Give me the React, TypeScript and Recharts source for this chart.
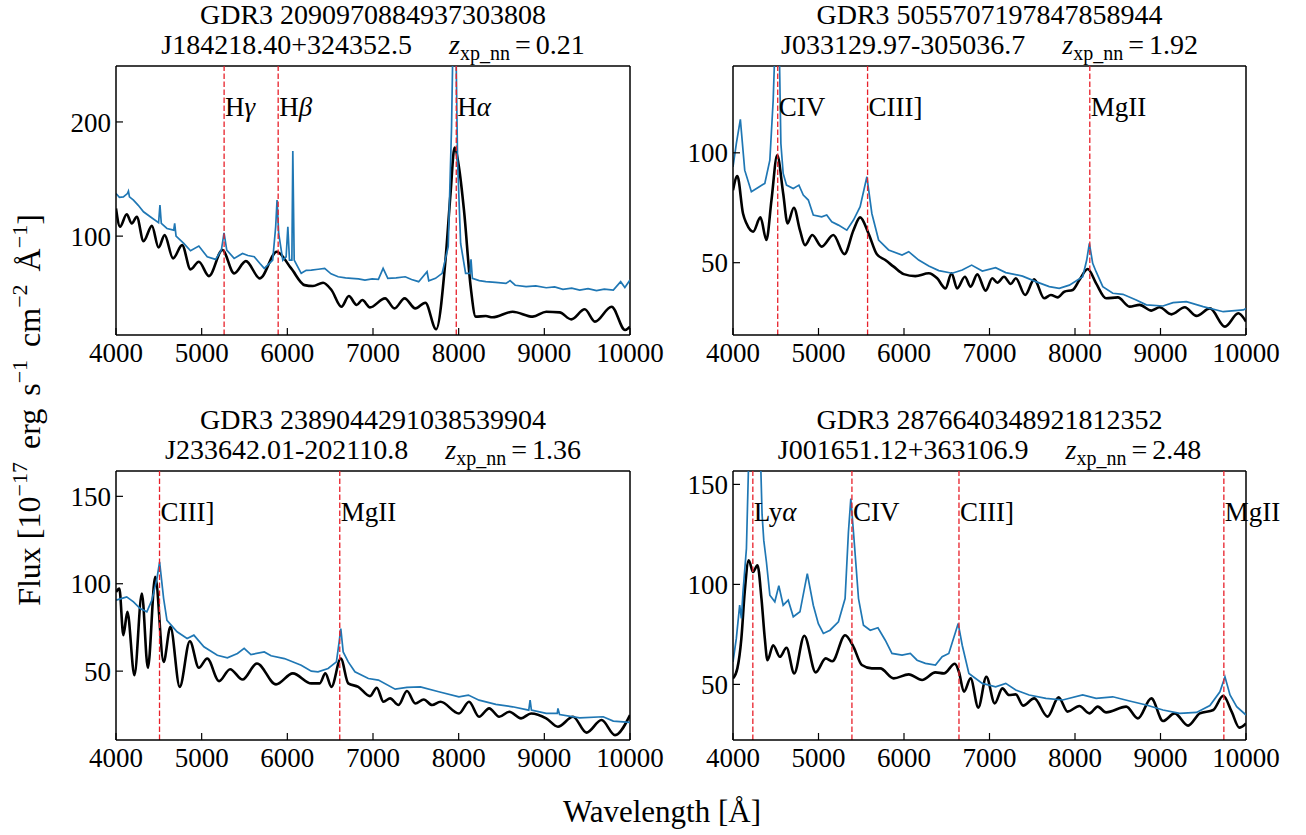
import React from 'react';
import { LineChart, Line, XAxis, YAxis, ReferenceLine } from 'recharts';

const FONT = '"Liberation Serif", "Times New Roman", Times, serif';

const xTicks = [4000, 5000, 6000, 7000, 8000, 9000, 10000];

// ---------- Panel 1 (top-left) ----------
const p1Id = 'GDR3 2090970884937303808';
const p1Name = 'J184218.40+324352.5';
const p1Z = '0.21';
const p1YDomain = [13.4, 249];
const p1YTicks = [100, 200];
const p1Xp = [
  [4000, 124.2], [4047, 108.2], [4125, 119.2], [4184, 111.1], [4243, 116.9], [4321, 95.6],
  [4419, 109.0], [4497, 90.1], [4568, 100.9], [4666, 80.5], [4772, 92.1], [4870, 70.9],
  [4967, 77.6], [5085, 65.0], [5242, 87.8], [5379, 67.4], [5516, 78.1], [5680, 63.0],
  [5876, 86.3], [6045, 71.7], [6201, 57.1], [6299, 56.3], [6417, 59.2], [6515, 52.8],
  [6632, 38.2], [6718, 47.5], [6809, 39.7], [6875, 44.0], [6965, 37.6], [7141, 45.5],
  [7251, 36.7], [7369, 45.5], [7494, 36.7], [7611, 41.7], [7737, 18.4], [7846, 79.0],
  [7905, 137.3], [7952, 177.5], [8003, 160.6], [8062, 122.7], [8140, 55.7], [8199, 29.5],
  [8317, 30.0], [8395, 28.9], [8630, 33.8], [8865, 29.5], [9022, 33.8], [9178, 33.2],
  [9315, 27.1], [9472, 35.9], [9590, 25.1], [9785, 38.2], [9942, 17.8], [10000, 20.7],
];
const p1Sdss = [
  [4000, 137.3], [4040, 134.0], [4086, 134.4], [4133, 137.3], [4145, 139.4], [4157, 134.4],
  [4204, 131.5], [4260, 127.0], [4321, 121.3], [4400, 117.0], [4497, 111.7], [4513, 127.1],
  [4529, 111.1], [4595, 106.7], [4674, 105.2], [4685, 111.1], [4701, 100.0], [4791, 93.6],
  [4870, 87.2], [4967, 91.3], [5065, 81.9], [5163, 79.6], [5230, 87.8], [5261, 102.9],
  [5293, 87.8], [5379, 80.5], [5477, 84.8], [5540, 83.0], [5614, 81.9], [5680, 76.0],
  [5731, 71.7], [5829, 79.0], [5864, 108.2], [5880, 131.5], [5899, 102.3], [5947, 79.0],
  [5986, 81.9], [6006, 108.2], [6025, 79.0], [6053, 79.0], [6064, 174.6], [6080, 79.0],
  [6162, 67.4], [6220, 70.0], [6280, 70.3], [6360, 71.0], [6436, 71.7], [6510, 67.0],
  [6593, 64.4], [6680, 63.5], [6750, 63.0], [6830, 62.5], [6906, 61.5], [6990, 62.5],
  [7063, 62.1], [7118, 71.7], [7173, 63.0], [7270, 63.5], [7376, 64.4], [7450, 62.0],
  [7533, 60.1], [7631, 68.8], [7651, 60.9], [7730, 63.0], [7807, 67.4], [7878, 90.7],
  [7917, 195.6], [7940, 300], [7964, 290], [7987, 166.5], [8023, 93.6], [8081, 67.4],
  [8132, 67.4], [8144, 79.6], [8160, 63.0], [8240, 61.0], [8317, 60.1], [8430, 59.5],
  [8552, 58.6], [8600, 61.0], [8660, 57.0], [8787, 55.7], [8900, 56.5], [9022, 54.8],
  [9120, 55.5], [9217, 53.4], [9320, 54.5], [9413, 52.8], [9510, 54.0], [9609, 52.2],
  [9700, 53.5], [9805, 52.8], [9891, 60.1], [9940, 55.0], [10000, 61.5],
];
const p1Lines = [
  { w: 5262, text: 'H', greek: 'γ' },
  { w: 5893, text: 'H', greek: 'β' },
  { w: 7972, text: 'H', greek: 'α' },
];

// ---------- Panel 2 (top-right) ----------
const p2Id = 'GDR3 5055707197847858944';
const p2Name = 'J033129.97-305036.7';
const p2Z = '1.92';
const p2YDomain = [17.1, 139.5];
const p2YTicks = [50, 100];
const p2Xp = [
  [4000, 83.0], [4051, 89.4], [4117, 72.4], [4157, 67.9], [4235, 64.1], [4321, 70.6],
  [4391, 60.3], [4450, 78.5], [4517, 98.9], [4587, 81.5], [4638, 67.9], [4712, 75.0],
  [4783, 64.8], [4842, 58.0], [4928, 62.6], [5037, 57.3], [5174, 62.6], [5303, 53.9],
  [5409, 64.8], [5487, 70.6], [5585, 63.3], [5683, 53.8], [5781, 51.2], [5879, 48.2],
  [5996, 44.8], [6133, 43.9], [6290, 45.2], [6388, 42.9], [6485, 38.3], [6556, 45.2],
  [6622, 38.3], [6712, 43.6], [6779, 39.1], [6857, 44.7], [6955, 37.3], [7033, 42.9],
  [7092, 40.9], [7170, 43.6], [7249, 40.3], [7307, 42.9], [7417, 35.3], [7523, 42.4],
  [7640, 33.8], [7718, 35.3], [7797, 34.2], [7875, 36.8], [7973, 37.6], [8051, 42.1],
  [8149, 47.1], [8247, 40.6], [8364, 33.8], [8501, 34.2], [8638, 30.0], [8756, 30.8],
  [8893, 28.2], [8990, 29.7], [9127, 26.5], [9284, 29.7], [9421, 25.8], [9578, 29.2],
  [9754, 20.9], [9910, 27.0], [10000, 23.2],
];
const p2Sdss = [
  [4000, 93.6], [4039, 104.2], [4086, 115.2], [4137, 92.1], [4215, 82.3], [4294, 84.2],
  [4372, 86.1], [4431, 96.7], [4470, 123.9], [4501, 160], [4536, 160], [4560, 104.2],
  [4587, 90.6], [4626, 85.3], [4705, 83.8], [4771, 85.3], [4822, 80.8], [4881, 78.5],
  [4939, 71.7], [5037, 70.9], [5096, 71.7], [5155, 68.6], [5233, 67.1], [5331, 64.8],
  [5409, 69.4], [5487, 75.5], [5566, 89.1], [5624, 72.4], [5703, 60.3], [5820, 55.8],
  [5977, 53.5], [6055, 55.0], [6172, 51.2], [6290, 48.5], [6407, 46.4], [6564, 45.2],
  [6681, 46.7], [6791, 48.9], [6916, 46.2], [7072, 47.7], [7190, 45.5], [7386, 43.9],
  [7542, 41.4], [7699, 39.1], [7816, 38.3], [7934, 39.8], [8090, 43.6], [8137, 51.2],
  [8168, 58.8], [8207, 49.7], [8247, 45.9], [8325, 39.1], [8442, 36.1], [8560, 35.6],
  [8716, 33.0], [8834, 30.8], [9029, 30.3], [9147, 31.8], [9303, 32.3], [9499, 30.0],
  [9734, 27.7], [9969, 28.5], [10000, 29.2],
];
const p2Lines = [
  { w: 4523, text: 'CIV', greek: '' },
  { w: 5574, text: 'CIII]', greek: '' },
  { w: 8173, text: 'MgII', greek: '' },
];

// ---------- Panel 3 (bottom-left) ----------
const p3Id = 'GDR3 2389044291038539904';
const p3Name = 'J233642.01-202110.8';
const p3Z = '1.36';
const p3YDomain = [10.6, 164.5];
const p3YTicks = [50, 100, 150];
const p3Xp = [
  [4000, 95.3], [4039, 97.2], [4086, 70.6], [4133, 83.9], [4215, 47.7], [4302, 94.4],
  [4372, 51.9], [4458, 103.9], [4556, 55.3], [4635, 75.3], [4744, 41.0], [4862, 67.1],
  [4967, 51.9], [5065, 57.2], [5203, 44.3], [5332, 51.1], [5477, 45.2], [5645, 54.4],
  [5868, 42.4], [6064, 48.7], [6280, 43.0], [6378, 43.0], [6444, 48.7], [6515, 41.0],
  [6624, 57.2], [6711, 43.0], [6828, 41.0], [6965, 35.7], [7044, 40.5], [7122, 32.5],
  [7200, 34.4], [7298, 30.6], [7396, 38.6], [7494, 31.5], [7592, 33.8], [7690, 30.6],
  [7788, 32.5], [8003, 25.8], [8121, 32.5], [8238, 23.9], [8356, 28.7], [8473, 23.9],
  [8591, 26.8], [8728, 23.0], [8845, 25.8], [9022, 23.0], [9159, 18.2], [9335, 23.9],
  [9492, 14.8], [9668, 22.0], [9825, 13.4], [10000, 24.9],
];
const p3Sdss = [
  [4000, 90.6], [4060, 91.5], [4125, 92.5], [4204, 89.6], [4282, 85.8], [4360, 83.9],
  [4419, 90.6], [4478, 103.0], [4509, 112.5], [4556, 91.5], [4595, 79.1], [4713, 72.5],
  [4830, 68.7], [4909, 70.6], [5026, 63.9], [5183, 59.1], [5300, 57.6], [5418, 60.1],
  [5496, 63.0], [5575, 59.5], [5731, 61.0], [5810, 58.8], [5966, 57.2], [6162, 53.4],
  [6280, 50.0], [6358, 49.6], [6476, 51.5], [6573, 55.3], [6605, 66.8], [6624, 74.4],
  [6652, 61.0], [6711, 55.3], [6789, 49.6], [6946, 45.8], [7063, 44.9], [7259, 39.7],
  [7396, 40.7], [7553, 41.0], [7768, 38.2], [8003, 35.3], [8113, 36.3], [8238, 33.4],
  [8434, 31.0], [8630, 29.6], [8818, 27.7], [8834, 33.4], [8849, 27.7], [9022, 25.8],
  [9151, 25.8], [9159, 28.7], [9178, 25.2], [9413, 23.3], [9687, 23.9], [9805, 21.4],
  [10000, 20.7],
];
const p3Lines = [
  { w: 4508, text: 'CIII]', greek: '' },
  { w: 6612, text: 'MgII', greek: '' },
];

// ---------- Panel 4 (bottom-right) ----------
const p4Id = 'GDR3 2876640348921812352';
const p4Name = 'J001651.12+363106.9';
const p4Z = '2.48';
const p4YDomain = [22.2, 156.7];
const p4YTicks = [50, 100, 150];
const p4Xp = [
  [4000, 53.0], [4051, 58.0], [4098, 73.0], [4137, 96.3], [4184, 112.1], [4235, 106.2],
  [4286, 109.6], [4333, 92.9], [4372, 73.0], [4403, 62.1], [4470, 69.6], [4548, 63.8],
  [4626, 68.3], [4716, 55.5], [4834, 74.3], [4967, 56.0], [5084, 63.0], [5162, 61.6],
  [5311, 74.6], [5409, 68.8], [5507, 59.7], [5624, 58.0], [5722, 58.0], [5879, 53.0],
  [6055, 55.0], [6211, 52.2], [6368, 56.0], [6466, 55.5], [6595, 60.3], [6642, 56.3],
  [6701, 46.3], [6779, 53.0], [6869, 38.4], [6963, 53.8], [7061, 40.5], [7151, 48.0],
  [7229, 44.7], [7307, 45.0], [7393, 39.4], [7523, 43.0], [7679, 33.9], [7808, 43.5],
  [7914, 36.4], [8051, 39.2], [8168, 35.5], [8266, 38.9], [8364, 36.0], [8599, 38.9],
  [8736, 33.0], [8893, 43.0], [9029, 31.7], [9166, 35.5], [9323, 29.4], [9460, 35.5],
  [9617, 37.2], [9734, 44.3], [9832, 36.4], [9922, 28.4], [10000, 30.5],
];
const p4Sdss = [
  [4000, 61.3], [4039, 73.0], [4078, 89.6], [4098, 83.0], [4117, 96.3], [4157, 117.9],
  [4188, 170], [4250, 200], [4321, 165], [4340, 135], [4360, 122], [4391, 111.2],
  [4431, 94.6], [4489, 91.3], [4536, 99.3], [4587, 89.6], [4646, 92.1], [4705, 83.8],
  [4783, 86.3], [4869, 105.4], [4939, 89.6], [4998, 80.4], [5057, 75.5], [5135, 77.1],
  [5233, 81.3], [5311, 92.9], [5350, 126.2], [5378, 142.9], [5409, 126.2], [5468, 92.9],
  [5526, 79.6], [5605, 77.1], [5695, 78.3], [5781, 72.1], [5859, 65.5], [5977, 64.6],
  [6074, 65.5], [6153, 62.1], [6250, 60.5], [6368, 59.7], [6446, 63.8], [6524, 65.5],
  [6634, 80.4], [6681, 69.6], [6759, 55.5], [6916, 50.5], [7072, 48.8], [7190, 50.5],
  [7307, 47.2], [7464, 44.7], [7660, 43.0], [7855, 42.2], [8090, 44.7], [8247, 43.0],
  [8442, 43.8], [8638, 41.7], [8834, 39.7], [9029, 37.2], [9225, 35.5], [9421, 36.0],
  [9578, 39.4], [9695, 46.3], [9754, 53.8], [9813, 44.7], [9891, 38.9], [10000, 34.7],
];
const p4Lines = [
  { w: 4232, text: 'Ly', greek: 'α' },
  { w: 5391, text: 'CIV', greek: '' },
  { w: 6643, text: 'CIII]', greek: '' },
  { w: 9741, text: 'MgII', greek: '' },
];

type Pair = number[];
type LineDef = { w: number; text: string; greek: string };

const toData = (arr: Pair[]) => arr.map(([w, f]) => ({ w, f }));

const makeLabel = (l: LineDef) => (props: any) => {
  const vb = props && props.viewBox ? props.viewBox : { x: props?.x ?? 0, y: props?.y ?? 0 };
  return (
    <text
      x={vb.x + 1}
      y={vb.y + 50}
      fontFamily={FONT}
      fontSize={27}
      fill="#000"
      textAnchor="start"
    >
      <tspan>{l.text}</tspan>
      {l.greek ? <tspan fontStyle="italic">{l.greek}</tspan> : null}
    </text>
  );
};

type PanelProps = {
  left: number;
  top: number;
  width: number;
  margin: { top: number; right: number; bottom: number; left: number };
  yDomain: number[];
  yTicks: number[];
  xp: Pair[];
  sdss: Pair[];
  lines: LineDef[];
};

function Panel({ left, top, width, margin, yDomain, yTicks, xp, sdss, lines }: PanelProps) {
  const xpData = toData(xp);
  const sdssData = toData(sdss);
  return (
    <div style={{ position: 'absolute', left, top }}>
      <LineChart width={width} height={400} margin={margin}>
        <XAxis
          type="number"
          dataKey="w"
          domain={[4000, 10000]}
          ticks={xTicks}
          interval={0}
          allowDataOverflow
          tickSize={-7}
          tickMargin={15}
          height={40}
          axisLine={{ stroke: '#000', strokeWidth: 1.5 }}
          tickLine={{ stroke: '#000', strokeWidth: 1.2 }}
          tick={{ fill: '#000', fontSize: 27, fontFamily: FONT }}
        />
        <YAxis
          type="number"
          domain={yDomain}
          ticks={yTicks}
          interval={0}
          allowDataOverflow
          width={60}
          tickSize={-7}
          tickMargin={12}
          axisLine={{ stroke: '#000', strokeWidth: 1.5 }}
          tickLine={{ stroke: '#000', strokeWidth: 1.2 }}
          tick={{ fill: '#000', fontSize: 27, fontFamily: FONT }}
        />
        <ReferenceLine y={yDomain[1]} stroke="#000" strokeWidth={1.5} />
        <ReferenceLine x={10000} stroke="#000" strokeWidth={1.5} />
        <Line
          data={xpData}
          dataKey="f"
          type="monotone"
          stroke="#000"
          strokeWidth={2.6}
          dot={false}
          activeDot={false}
          isAnimationActive={false}
        />
        <Line
          data={sdssData}
          dataKey="f"
          type="linear"
          stroke="#1f77b4"
          strokeWidth={1.7}
          dot={false}
          activeDot={false}
          isAnimationActive={false}
        />
        {lines.map((l) => (
          <ReferenceLine
            key={l.text + l.w}
            x={l.w}
            stroke="#e8202a"
            strokeWidth={1.3}
            strokeDasharray="5.5 2.5"
            label={makeLabel(l)}
          />
        ))}
      </LineChart>
    </div>
  );
}

function Title({ cx, y, id, name, z }: { cx: number; y: number; id: string; name: string; z: string }) {
  return (
    <g fontFamily={FONT} fill="#000">
      <text x={cx} y={y} fontSize={28} textAnchor="middle">{id}</text>
      <text x={cx} y={y + 30} fontSize={28} textAnchor="middle">
        <tspan>{name}</tspan>
        <tspan dx={37} fontStyle="italic">z</tspan>
        <tspan fontSize={20} dy={6}>xp_nn</tspan>
        <tspan dy={-6} dx={5}>=</tspan>
        <tspan dx={5}>{z}</tspan>
      </text>
    </g>
  );
}

const LEFT_COL = { left: 0, width: 700, margin: { top: 66, right: 70, bottom: 25, left: 56 } };
const RIGHT_COL = { left: 660, width: 646, margin: { top: 66, right: 60, bottom: 25, left: 13 } };
const ROW2_TOP = 405;

export default function App() {
  return (
    <div style={{ position: 'absolute', left: 0, top: 0, width: 1306, height: 835, background: '#fff', overflow: 'hidden' }}>
      <Panel {...LEFT_COL} top={0} yDomain={p1YDomain} yTicks={p1YTicks} xp={p1Xp} sdss={p1Sdss} lines={p1Lines} />
      <Panel {...RIGHT_COL} top={0} yDomain={p2YDomain} yTicks={p2YTicks} xp={p2Xp} sdss={p2Sdss} lines={p2Lines} />
      <Panel {...LEFT_COL} top={ROW2_TOP} yDomain={p3YDomain} yTicks={p3YTicks} xp={p3Xp} sdss={p3Sdss} lines={p3Lines} />
      <Panel {...RIGHT_COL} top={ROW2_TOP} yDomain={p4YDomain} yTicks={p4YTicks} xp={p4Xp} sdss={p4Sdss} lines={p4Lines} />
      <svg width={1306} height={835} style={{ position: 'absolute', left: 0, top: 0, pointerEvents: 'none' }}>
        <Title cx={373} y={24} id={p1Id} name={p1Name} z={p1Z} />
        <Title cx={989.5} y={24} id={p2Id} name={p2Name} z={p2Z} />
        <Title cx={373} y={429} id={p3Id} name={p3Name} z={p3Z} />
        <Title cx={989.5} y={429} id={p4Id} name={p4Name} z={p4Z} />
        <text x={662} y={822} fontFamily={FONT} fontSize={31} textAnchor="middle" fill="#000">
          Wavelength [Å]
        </text>
        <text transform="translate(40,410) rotate(-90)" fontFamily={FONT} fontSize={32} textAnchor="middle" fill="#000">
          <tspan>Flux [10</tspan>
          <tspan fontSize={22} dy={-13}>−17</tspan>
          <tspan dy={13} dx={13}>erg</tspan>
          <tspan dx={13}>s</tspan>
          <tspan fontSize={22} dy={-13}>−1</tspan>
          <tspan dy={13} dx={13}>cm</tspan>
          <tspan fontSize={22} dy={-13}>−2</tspan>
          <tspan dy={13} dx={13}>Å</tspan>
          <tspan fontSize={22} dy={-13}>−1</tspan>
          <tspan dy={13}>]</tspan>
        </text>
      </svg>
    </div>
  );
}
